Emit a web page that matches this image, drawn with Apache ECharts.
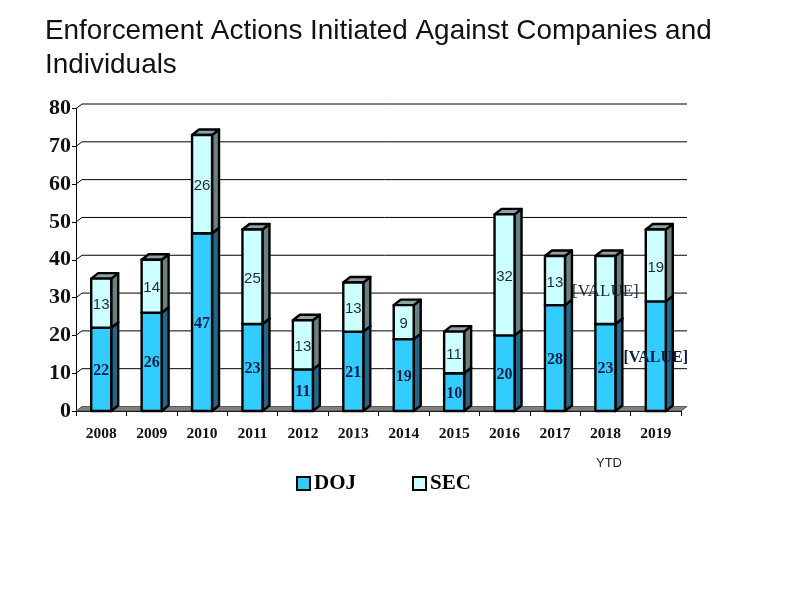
<!DOCTYPE html>
<html>
<head>
<meta charset="utf-8">
<style>html,body{margin:0;padding:0;background:#fff}#c{width:792px;height:612px}</style>
<script src="https://cdn.jsdelivr.net/npm/echarts@6/dist/echarts.min.js"></script>
</head>
<body>
<div id="c"></div>
<script>
var categories = ['2008','2009','2010','2011','2012','2013','2014','2015','2016','2017','2018','2019'];
var dojValues = [22,26,47,23,11,21,19,10,20,28,23,29];
var secValues = [13,14,26,25,13,13,9,11,32,13,18,19];
var dojLabels = ['22','26','47','23','11','21','19','10','20','28','23','[VALUE]'];
var secLabels = ['13','14','26','25','13','13','9','11','32','13','[VALUE]','19'];
var yTicks = [0,10,20,30,40,50,60,70,80];
var titleLines = 'Enforcement Actions Initiated Against Companies and\nIndividuals';

var DEPTH_X = 6, DEPTH_Y = 4.5, BAR_W = 20;
var barDX = 7, barDY = 5.5;

function poly(points, fill){
  return {type:'polygon', shape:{points:points},
    style:{fill:fill, stroke:'#000', lineWidth:2.4, lineJoin:'round'}};
}
function barItem(base, lens, front, side, top){
  return function(params, api){
    var i = api.value(0);
    var b = base[i], t = b + lens[i];
    var cx = api.coord([i,0])[0];
    var y0 = api.coord([i,b])[1], y1 = api.coord([i,t])[1];
    var l = cx-BAR_W/2, r = cx+BAR_W/2;
    return {type:'group', children:[
      poly([[r,y0],[r+barDX,y0-barDY],[r+barDX,y1-barDY],[r,y1]], side),
      poly([[l,y1],[l+barDX,y1-barDY],[r+barDX,y1-barDY],[r,y1]], top),
      poly([[l,y0],[r,y0],[r,y1],[l,y1]], front)
    ]};
  };
}
function labelItem(base, lens, labels, font, placeholderFont, color, dy){
  return function(params, api){
    var i = api.value(0);
    var b = base[i];
    var p = api.coord([i, b + lens[i]/2]);
    return {type:'text', z2:100, x:p[0], y:p[1]+dy, style:{
      text:labels[i], font:labels[i]==='[VALUE]'?placeholderFont:font,
      fill:color, align:'center', verticalAlign:'middle'}};
  };
}
var zeros = categories.map(function(){return 0;});
var idx = categories.map(function(c,i){return [i];});

var option = {
  animation:false,
  backgroundColor:'#fff',
  title:{text:titleLines, left:40, top:9,
    textStyle:{fontFamily:'Liberation Sans', fontWeight:'normal', fontSize:27.9, lineHeight:34, color:'#111'}},
  legend:{left:291, top:468, itemWidth:13, itemHeight:13, itemGap:56, selectedMode:false,
    data:[{name:'DOJ',icon:'rect'},{name:'SEC',icon:'rect'}],
    textStyle:{fontFamily:'Liberation Serif', fontWeight:'bold', fontSize:21, color:'#000', padding:[3,0,0,-1]}},
  grid:{left:76, top:108.5, width:605, height:302.5},
  xAxis:{type:'category', data:categories, boundaryGap:true,
    axisLine:{lineStyle:{color:'#000',width:1}},
    axisTick:{show:true, alignWithLabel:false, length:5, lineStyle:{color:'#000'}},
    axisLabel:{fontFamily:'Liberation Serif', fontWeight:'bold', fontSize:15.5, color:'#111', margin:15},
    splitLine:{show:false}},
  yAxis:{type:'value', min:0, max:80, interval:10,
    axisLine:{show:true, lineStyle:{color:'#000',width:1}},
    axisTick:{show:true, length:4, lineStyle:{color:'#000'}},
    axisLabel:{fontFamily:'Liberation Serif', fontWeight:'bold', fontSize:22, color:'#111', margin:5},
    splitLine:{show:false}},
  graphic:[{type:'text', left:596, top:457,
    style:{text:'YTD', font:'13px "Liberation Sans"', fill:'#222'}}],
  series:[
    {type:'custom', name:'wall', silent:true, coordinateSystem:'cartesian2d', z:1,
     data:yTicks.map(function(v){return [0,v];}), encode:{x:0,y:1}, clip:false,
     renderItem:function(params, api){
       var v = api.value(1), cs = params.coordSys;
       var y = api.coord([0,v])[1];
       var children = [];
       if (v === 0) {
         children.push({type:'polygon', shape:{points:[[cs.x,y],[cs.x+DEPTH_X,y-DEPTH_Y],[cs.x+cs.width+DEPTH_X,y-DEPTH_Y],[cs.x+cs.width,y]]},
           style:{fill:'#808080', stroke:'#444', lineWidth:0.8}});
       } else {
         children.push({type:'polyline', shape:{points:[[cs.x,y],[cs.x+DEPTH_X,y-DEPTH_Y],[cs.x+cs.width+DEPTH_X,y-DEPTH_Y]]},
           style:{fill:'none', stroke:'#000', lineWidth:1}});
       }
       return {type:'group', children:children};
     }},
    {type:'custom', name:'DOJ', coordinateSystem:'cartesian2d', z:2, clip:false,
     itemStyle:{color:'#33CCFF', borderColor:'#000', borderWidth:1.5},
     data:idx, encode:{x:0,y:-1},
     renderItem:barItem(zeros, dojValues, '#33CCFF', '#22668A', '#22668A')},
    {type:'custom', name:'SEC', coordinateSystem:'cartesian2d', z:3, clip:false,
     itemStyle:{color:'#CCFFFF', borderColor:'#000', borderWidth:1.5},
     data:idx, encode:{x:0,y:-1},
     renderItem:barItem(dojValues, secValues, '#CCFFFF', '#6B8080', '#8FA3A3')},
    {type:'custom', name:'dojLabels', silent:true, coordinateSystem:'cartesian2d', z:5, clip:false,
     data:idx, encode:{x:0,y:-1},
     renderItem:labelItem(zeros, dojValues, dojLabels, 'bold 16px "Liberation Serif"', 'bold 16px "Liberation Serif"', '#0A1E46', 1.5)},
    {type:'custom', name:'secLabels', silent:true, coordinateSystem:'cartesian2d', z:6, clip:false,
     data:idx, encode:{x:0,y:-1},
     renderItem:labelItem(dojValues, secValues, secLabels, '15px "Liberation Sans"', '17px "Liberation Serif"', '#1a2a3a', 2)}
  ]
};
echarts.init(document.getElementById('c'), null, {renderer:'canvas'}).setOption(option);
</script>
</body>
</html>
